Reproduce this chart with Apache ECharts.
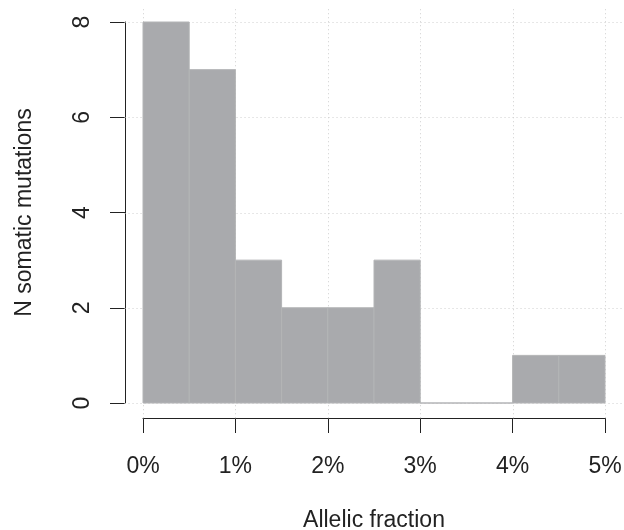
<!DOCTYPE html>
<html>
<head>
<meta charset="utf-8">
<script src="https://cdn.jsdelivr.net/npm/echarts@6/dist/echarts.min.js"></script>
<style>html,body{margin:0;padding:0;background:#fff}#c{width:624px;height:530px}</style>
</head>
<body>
<div id="c"></div>
<script>
// Histogram bins (allelic fraction, %) and counts
const binStarts = [0, 0.5, 1, 1.5, 2, 2.5, 3, 3.5, 4, 4.5];
const binEnds   = [0.5, 1, 1.5, 2, 2.5, 3, 3.5, 4, 4.5, 5];
const counts    = [8, 7, 3, 2, 2, 3, 0, 0, 1, 1];
const xGridValues = [0, 1, 2, 3, 4, 5];
const yGridValues = [0, 2, 4, 6, 8];
const xTitle = 'Allelic fraction';
const yTitle = 'N somatic mutations';

const FONT = '"Liberation Sans", Arial, Helvetica, sans-serif';
const barData = binStarts.map((s, i) => [s, binEnds[i], counts[i]]);
const X_PAD = [-0.2, 5.2], Y_PAD = [-0.32, 8.32];

const chart = echarts.init(document.getElementById('c'), null, {renderer: 'canvas'});
chart.setOption({
  animation: false,
  backgroundColor: '#ffffff',
  grid: {left: 143, right: 19, top: 22, bottom: 127, containLabel: false, outerBoundsMode: 'none'},
  xAxis: {
    type: 'value', min: 0, max: 5, interval: 1, offset: 15,
    axisLine: {show: true, onZero: false, lineStyle: {color: '#222', width: 1}},
    axisTick: {show: true, length: 15, lineStyle: {color: '#222', width: 1}},
    axisLabel: {formatter: v => v + '%', fontSize: 23, color: '#222', fontFamily: FONT, margin: 37},
    splitLine: {show: false},
    name: xTitle, nameLocation: 'middle', nameGap: 91,
    nameTextStyle: {fontSize: 23, color: '#222', fontFamily: FONT}
  },
  yAxis: {
    type: 'value', min: 0, max: 8, interval: 2, offset: 18,
    axisLine: {show: true, onZero: false, lineStyle: {color: '#222', width: 1}},
    axisTick: {show: true, length: 15, lineStyle: {color: '#222', width: 1}},
    axisLabel: {rotate: 90, fontSize: 23, color: '#222', fontFamily: FONT, margin: 31},
    splitLine: {show: false},
    name: yTitle, nameLocation: 'middle', nameGap: 89, nameRotate: 90,
    nameTextStyle: {fontSize: 23, color: '#222', fontFamily: FONT}
  },
  series: [
    {
      type: 'custom', clip: false, silent: true, z: 1,
      data: xGridValues.map(v => [v, 0]),
      encode: {x: 0, y: 1},
      renderItem: (params, api) => {
        const x = api.value(0);
        const p1 = api.coord([x, Y_PAD[0]]), p2 = api.coord([x, Y_PAD[1]]);
        return {type: 'line', shape: {x1: Math.round(p1[0]) + 0.5, y1: p1[1], x2: Math.round(p2[0]) + 0.5, y2: p2[1]},
          style: {stroke: '#cfcfcf', lineWidth: 1, lineDash: [1, 3]}};
      }
    },
    {
      type: 'custom', clip: false, silent: true, z: 1,
      data: yGridValues.map(v => [0, v]),
      encode: {x: 0, y: 1},
      renderItem: (params, api) => {
        const y = api.value(1);
        const p1 = api.coord([X_PAD[0], y]), p2 = api.coord([X_PAD[1], y]);
        return {type: 'line', shape: {x1: p1[0], y1: Math.round(p1[1]) + 0.5, x2: p2[0], y2: Math.round(p2[1]) + 0.5},
          style: {stroke: '#cfcfcf', lineWidth: 1, lineDash: [1, 3]}};
      }
    },
    {
      type: 'custom', clip: false, silent: true, z: 2,
      data: barData,
      encode: {x: [0, 1], y: 2},
      renderItem: (params, api) => {
        const a = api.coord([api.value(0), api.value(2)]);
        const b = api.coord([api.value(1), 0]);
        return {type: 'rect', shape: {x: a[0], y: a[1], width: b[0] - a[0], height: b[1] - a[1]},
          style: {fill: '#a9aaad', stroke: '#b3b4b6', lineWidth: 1}};
      }
    }
  ]
});
</script>
</body>
</html>
